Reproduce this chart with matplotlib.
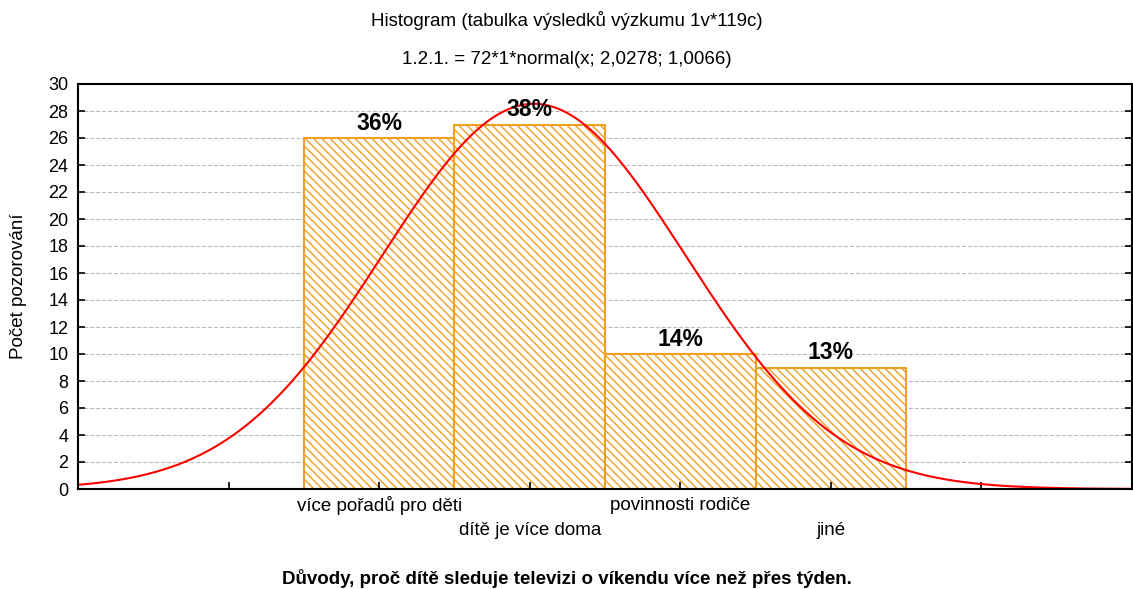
import numpy as np
import matplotlib.pyplot as plt

plt.rcParams['font.family'] = ['Liberation Sans', 'DejaVu Sans']
plt.rcParams['hatch.linewidth'] = 1.0
plt.rcParams['hatch.color'] = '#F0A020'

categories = ['více pořadů pro děti', 'dítě je více doma', 'povinnosti rodiče', 'jiné']
counts = [26, 27, 10, 9]
pct_labels = ['36%', '38%', '14%', '13%']
positions = [1, 2, 3, 4]

# fitted curve from the title: 72*1*normal(x; 2,0278; 1,0066)
n_total = 72
mu = 2.0278
sd = 1.0066

fig = plt.figure(figsize=(11.33, 5.89), dpi=100)
ax = fig.add_axes([78 / 1133, 1 - 489 / 589, (1132 - 78) / 1133, (489 - 84) / 589])

# grid drawn by hand so ticks/spines can stay above the bars
for g in range(2, 30, 2):
    ax.axhline(g, linestyle='--', color='#BBBBBB', lw=0.8, zorder=0)

orange = '#F0A020'
ax.bar(positions, counts, width=1.0, color='white', edgecolor=orange,
       hatch='\\\\\\\\', linewidth=1.5, zorder=2)
for p, c, lab in zip(positions, counts, pct_labels):
    ax.text(p, c + 1.1, lab, ha='center', va='center', fontsize=16.5,
            fontweight='bold', zorder=4)

xs = np.linspace(-1, 6, 500)
ys = n_total * np.exp(-0.5 * ((xs - mu) / sd) ** 2) / (sd * np.sqrt(2 * np.pi))
ax.plot(xs, ys, color='red', lw=1.5, zorder=3)

ax.set_axisbelow(False)
ax.set_xlim(-1, 6)
ax.set_ylim(0, 30)
ax.set_yticks(range(0, 31, 2))
ax.set_xticks(range(0, 6))
ax.set_xticklabels([])
for i, (p, name) in enumerate(zip(positions, categories)):
    ax.text(p, -1.25 if i % 2 == 0 else -3.1, name, ha='center', va='center',
            fontsize=13.5)

ax.tick_params(direction='in', length=5, width=1.2, labelsize=13,
               right=True, top=False, pad=7)
for s in ax.spines.values():
    s.set_linewidth(1.5)
    s.set_zorder(5)

ax.set_ylabel('Počet pozorování', fontsize=13.5)
ax.yaxis.set_label_coords(-51 / 1054, 0.5)
fig.text(0.5, 1 - 578 / 589, 'Důvody, proč dítě sleduje televizi o víkendu více než přes týden.',
         ha='center', va='center', fontsize=13.5, fontweight='bold')
fig.text(0.5, 1 - 20 / 589, 'Histogram (tabulka výsledků výzkumu 1v*119c)',
         ha='center', va='center', fontsize=13.5)
fig.text(0.5, 1 - 60 / 589, '1.2.1. = 72*1*normal(x; 2,0278; 1,0066)',
         ha='center', va='center', fontsize=13.5)

fig.savefig('out.png', dpi=100)
